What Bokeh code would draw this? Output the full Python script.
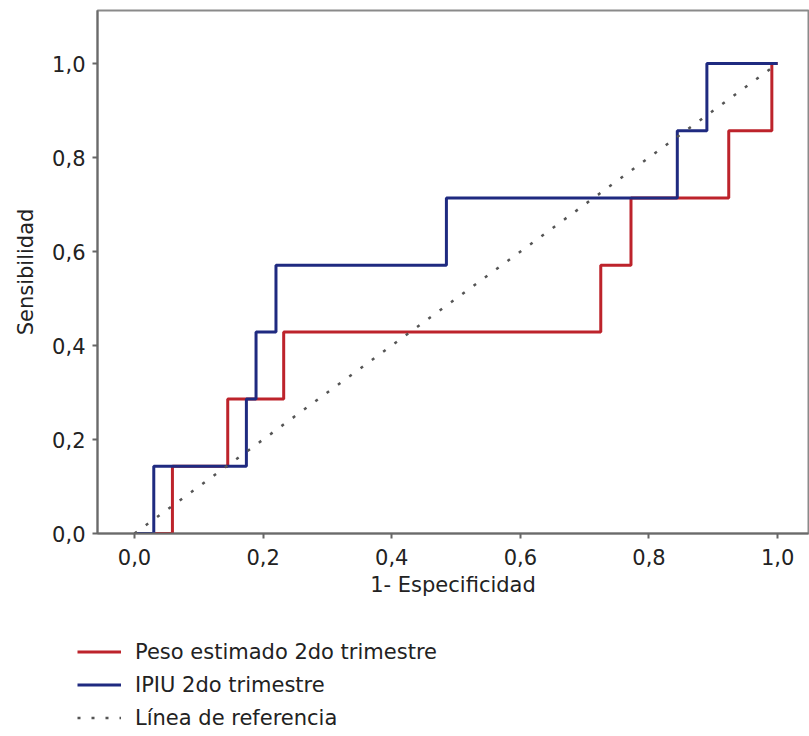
from bokeh.plotting import figure
from bokeh.layouts import column
from bokeh.models import Range1d, FixedTicker, CustomJSTickFormatter, Legend, LegendItem
from bokeh.embed import file_html
from bokeh.resources import INLINE

# ---- data ----
sens_levels = [0.0, 0.143, 0.286, 0.429, 0.571, 0.714, 0.857, 1.0, 1.0]
peso_fpr = [0.0, 0.059, 0.145, 0.232, 0.725, 0.772, 0.924, 0.991, 1.0]
ipiu_fpr = [0.0, 0.030, 0.174, 0.189, 0.220, 0.485, 0.844, 0.890, 1.0]
ref_x = [0.0, 1.0]
ref_y = [0.0, 1.0]
tick_values = [0.0, 0.2, 0.4, 0.6, 0.8, 1.0]
series_names = ["Peso estimado 2do trimestre", "IPIU 2do trimestre", "Línea de referencia"]
x_title = "1- Especificidad"
y_title = "Sensibilidad"

FONT = "DejaVu Sans"
FS = "21px"
RED = "#bd232b"
BLUE = "#1f2a80"
REF_COLOR = "#555555"
TXT = "#222222"


def step_path(xs, ys):
    px, py = [xs[0]], [ys[0]]
    for i in range(1, len(xs)):
        px += [xs[i], xs[i]]
        py += [ys[i - 1], ys[i]]
    return px, py


# ---- main ROC plot ----
p = figure(width=809, height=620,
           x_range=Range1d(-0.0575, 1.048), y_range=Range1d(0, 1.113),
           output_backend="svg", toolbar_location=None,
           min_border_left=97, min_border_right=1, min_border_top=10,
           min_border_bottom=87)
p.frame_align = False

p.background_fill_color = "white"
p.border_fill_color = "white"
p.outline_line_color = "#8a8a8a"
p.outline_line_width = 2
p.xgrid.visible = False
p.ygrid.visible = False

rx, ry = step_path(peso_fpr, sens_levels)
bx, by = step_path(ipiu_fpr, sens_levels)
p.line(rx, ry, line_color=RED, line_width=3)
p.line(bx, by, line_color=BLUE, line_width=3)
p.line(ref_x, ref_y, line_color=REF_COLOR, line_width=2.5, line_dash="3 11")

fmt = CustomJSTickFormatter(code="return tick.toFixed(1).replace('.', ',');")
for ax in (p.xaxis[0], p.yaxis[0]):
    ax.ticker = FixedTicker(ticks=tick_values)
    ax.formatter = fmt
    ax.minor_tick_line_color = None
    ax.major_tick_in = 0
    ax.major_tick_out = 5
    ax.major_tick_line_color = "#666666"
    ax.major_tick_line_width = 2
    ax.axis_line_color = "#6a6a6a"
    ax.axis_line_width = 2
    ax.major_label_text_font = FONT
    ax.major_label_text_font_size = FS
    ax.major_label_text_color = TXT
    ax.axis_label_text_font = FONT
    ax.axis_label_text_font_size = FS
    ax.axis_label_text_font_style = "normal"
    ax.axis_label_text_color = TXT

p.xaxis[0].axis_label = x_title
p.xaxis[0].major_label_standoff = 10
p.xaxis[0].axis_label_standoff = 5
p.yaxis[0].axis_label = y_title
p.yaxis[0].major_label_standoff = 7
p.yaxis[0].axis_label_standoff = 11

# ---- legend strip below the chart ----
lg = figure(width=809, height=116, x_range=Range1d(0, 1), y_range=Range1d(0, 1),
            output_backend="svg", toolbar_location=None,
            x_axis_location=None, y_axis_location=None,
            min_border_left=0, min_border_right=0, min_border_top=0, min_border_bottom=0)
lg.frame_align = False
lg.outline_line_color = None
lg.xgrid.visible = False
lg.ygrid.visible = False
lg.background_fill_color = "white"
lg.border_fill_color = "white"

# single-point lines: nothing drawn in the strip, they only carry the legend styles
k_red = lg.line(peso_fpr[:1], sens_levels[:1], line_color=RED, line_width=3)
k_blue = lg.line(ipiu_fpr[:1], sens_levels[:1], line_color=BLUE, line_width=3)
k_ref = lg.line(ref_x[:1], ref_y[:1], line_color=REF_COLOR, line_width=2.5, line_dash="3 11")

legend = Legend(items=[LegendItem(label=series_names[0], renderers=[k_red]),
                       LegendItem(label=series_names[1], renderers=[k_blue]),
                       LegendItem(label=series_names[2], renderers=[k_ref])],
                location=(77, 2), orientation="vertical",
                margin=0, padding=0, spacing=0,
                glyph_width=44, glyph_height=33, label_height=33,
                label_standoff=14,
                label_text_font=FONT, label_text_font_size=FS,
                label_text_color=TXT,
                border_line_color=None, background_fill_alpha=0)
lg.add_layout(legend, "center")

layout = column(p, lg, spacing=0)

open("out.html", "w").write(file_html(layout, INLINE))
